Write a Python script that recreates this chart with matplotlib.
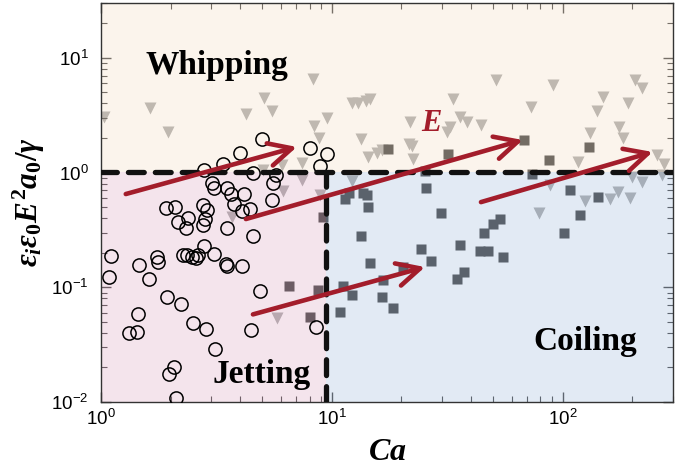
import math
import matplotlib
matplotlib.use('Agg')
import matplotlib.pyplot as plt
from matplotlib.ticker import FuncFormatter, LogLocator, NullFormatter

plt.rcParams['font.family'] = ['Liberation Sans', 'DejaVu Sans']
plt.rcParams['mathtext.fontset'] = 'custom'
plt.rcParams['mathtext.rm'] = 'Liberation Serif:bold'
plt.rcParams['mathtext.it'] = 'Liberation Serif:bold:italic'
plt.rcParams['mathtext.bf'] = 'Liberation Serif:bold'

# regime boundaries
ca_crit = 9.4
field_crit = 1.0

# jetting (open circles)
jet_ca = [4.98, 4.0, 3.37, 2.79, 8.03, 9.51, 8.87, 4.55, 5.7,
          3.02, 3.08, 3.51, 3.65, 4.16, 3.77, 4.08, 4.42, 5.55, 5.50,
          1.91, 2.09, 2.76, 2.88, 2.15, 2.38, 2.33, 2.76, 2.82, 3.51, 4.55,
          1.10, 1.46, 1.75, 1.77, 2.26, 2.36, 2.48, 2.58, 2.63, 2.79, 3.08,
          3.48, 3.51, 4.08, 1.08, 1.61, 4.88, 1.93, 2.22, 1.45, 1.32, 1.43,
          2.50, 2.85, 3.11, 4.46, 8.52, 1.97, 2.07, 2.11]
jet_e = [1.96, 1.48, 1.19, 1.05, 1.64, 1.45, 1.14, 0.99, 0.95,
         0.81, 0.73, 0.73, 0.65, 0.65, 0.53, 0.46, 0.48, 0.81, 0.575,
         0.49, 0.50, 0.52, 0.47, 0.37, 0.40, 0.33, 0.35, 0.39, 0.33, 0.28,
         0.187, 0.156, 0.183, 0.165, 0.19, 0.19, 0.183, 0.179, 0.19, 0.228, 0.194,
         0.159, 0.153, 0.153, 0.122, 0.117, 0.092, 0.082, 0.071, 0.059, 0.0396, 0.0405,
         0.0485, 0.043, 0.0288, 0.042, 0.0448, 0.0177, 0.020, 0.0109]

# whipping (triangles)
whip_ca = [1.03, 1.63, 1.95, 8.27, 5.08, 5.50, 4.24, 9.51, 8.36, 8.78,
           12.2, 13.0, 14.0, 13.4, 14.3, 15.7, 16.5, 5.03, 6.08, 7.42, 14.6,
           51.3, 90.5, 33.4, 72.7, 150, 205, 220, 191, 140,
           21.8, 35.8, 38.4, 44.2, 32.4, 31.5, 21.5, 22.2, 22.4,
           131, 175, 182, 116, 255, 274, 268,
           12.2, 78.7, 87.9, 124.5, 160, 173, 195, 199, 220,
           3.69, 6.14, 7.42, 8.87, 5.78]
whip_e = [3.05, 3.66, 2.26, 6.55, 4.47, 3.44, 3.24, 2.99, 2.55, 2.0,
          4.05, 4.05, 4.21, 1.96, 1.37, 1.48, 1.57, 1.05, 1.16, 1.21, 4.38,
          6.43, 5.81, 4.38, 3.73, 4.56, 6.43, 5.47, 4.05, 3.44,
          2.76, 3.05, 2.76, 2.60, 2.50, 2.26, 1.77, 1.70, 1.31,
          2.21, 2.50, 2.0, 1.24, 1.42, 1.19, 0.95,
          0.84, 0.44, 0.78, 0.56, 0.59, 0.68, 0.60, 0.91, 0.83,
          0.41, 0.69, 0.86, 0.64, 0.0536]

# coiling (squares)
coil_ca = [17.5, 31.8, 67.8, 86.9, 130, 25.3, 73.4,
           11.4, 11.9, 13.6, 14.2, 14.3, 25.5, 29.6, 13.4, 14.6, 24.3, 26.8,
           20.3, 16.6, 11.2, 12.2, 16.5, 18.4, 10.8, 35.8, 34.8, 37.3, 43.7,
           47.3, 45.5, 49.8, 53.3, 55.0, 107, 101, 118.5, 142,
           6.51, 8.7, 8.03, 9.14]
coil_e = [1.60, 1.45, 1.92, 1.29, 1.67, 1.03, 0.97,
          0.59, 0.66, 0.66, 0.64, 0.50, 0.73, 0.44, 0.279, 0.162, 0.215, 0.169,
          0.150, 0.115, 0.102, 0.085, 0.083, 0.066, 0.0605, 0.233, 0.117, 0.135, 0.206,
          0.206, 0.296, 0.355, 0.393, 0.183, 0.70, 0.296, 0.425, 0.61,
          0.102, 0.094, 0.0547, 0.41]

# field-direction arrows: (start, end)
arrows = [((1.28, 0.649), (7.05, 1.67)),
          ((4.24, 0.393), (67.1, 1.92)),
          ((4.55, 0.058), (25.3, 0.150)),
          ((44.2, 0.552), (245, 1.51))]

red = '#a31d2b'

fig = plt.figure(figsize=(6.77, 4.70), dpi=100)
ax = fig.add_axes([101 / 677, 68 / 470, 572 / 677, 399 / 470])
ax.set_xscale('log')
ax.set_yscale('log')
ax.set_xlim(1, 300)
ax.set_ylim(0.01, 30)

ax.plot(whip_ca, whip_e, 'v', ms=9, color='#a3a3a3', mec='none', zorder=1)
ax.plot(coil_ca, coil_e, 's', ms=7.5, color='#2f2f2f', mec='none', zorder=1)

# translucent regime shading drawn over the filled markers
ax.fill_between([1, 300], field_crit, 30, color='#f4e0c9', alpha=0.35, lw=0, zorder=2)
ax.fill_between([1, ca_crit], 0.01, field_crit, color='#e0b2c9', alpha=0.35, lw=0, zorder=2)
ax.fill_between([ca_crit, 300], 0.01, field_crit, color='#acc3e0', alpha=0.35, lw=0, zorder=2)

ax.plot(jet_ca, jet_e, 'o', ms=9.5, mfc='none', mec='black', mew=1.1, zorder=3)

ax.plot([1, 300], [field_crit, field_crit], color='#111111', lw=3.8,
        ls=(0, (3.0, 2.1)), dash_capstyle='round', zorder=4)
ax.plot([ca_crit, ca_crit], [0.01, field_crit], color='#111111', lw=3.8,
        ls=(0, (3.0, 2.1)), dash_capstyle='round', zorder=4)

for start, end in arrows:
    ax.annotate('', xy=end, xytext=start,
                arrowprops=dict(arrowstyle='->,head_length=1.1,head_width=0.55',
                                lw=3.3, color=red, mutation_scale=15,
                                shrinkA=0, shrinkB=0),
                zorder=5)

ax.text(27.1, 2.7, '$E$', color=red, fontsize=22, ha='center', va='center', zorder=6)
ax.text(3.18, 7.25, 'Whipping', family='Liberation Serif', weight='bold',
        fontsize=24, ha='center', va='baseline', zorder=6)
ax.text(4.98, 0.0145, 'Jetting', family='Liberation Serif', weight='bold',
        fontsize=24, ha='center', va='baseline', zorder=6)
ax.text(124.5, 0.0282, 'Coiling', family='Liberation Serif', weight='bold',
        fontsize=24, ha='center', va='baseline', zorder=6)

ax.set_xlabel('$Ca$', fontsize=23, labelpad=6)
ax.set_ylabel(r'$\varepsilon_i\varepsilon_0E^2a_0/\gamma$', fontsize=22.5, labelpad=3)

fmt = FuncFormatter(lambda v, p: r'$\mathregular{10^{%d}}$' % round(math.log10(v)))
ax.xaxis.set_major_formatter(fmt)
ax.yaxis.set_major_formatter(fmt)
ax.xaxis.set_minor_formatter(NullFormatter())
ax.yaxis.set_minor_formatter(NullFormatter())
ax.xaxis.set_major_locator(LogLocator(base=10, numticks=10))
ax.yaxis.set_major_locator(LogLocator(base=10, numticks=10))
ax.tick_params(which='both', direction='in', top=True, right=True, colors='#333333',
               labelcolor='black', labelsize=13.5)
ax.tick_params(which='major', length=7, width=1)
ax.tick_params(which='minor', length=4, width=0.8)
ax.tick_params(axis='y', pad=9)
ax.tick_params(axis='x', pad=5)
for s in ax.spines.values():
    s.set_color('#333333')
    s.set_linewidth(1)

plt.savefig('out.png', dpi=100)
plt.close(fig)
